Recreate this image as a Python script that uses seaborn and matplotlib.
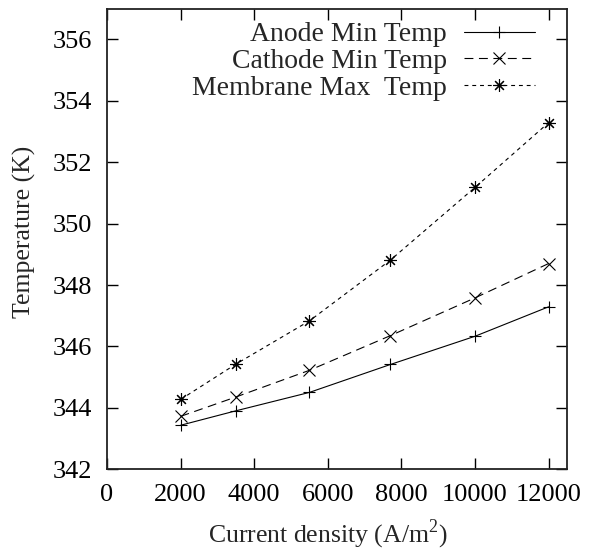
import matplotlib
matplotlib.use("Agg")
import matplotlib.pyplot as plt
import seaborn as sns
import pandas as pd

current_density = [2000, 3500, 5500, 7700, 10000, 12000]
anode_min = [343.43, 343.90, 344.50, 345.41, 346.33, 347.29]
cathode_min = [343.72, 344.35, 345.22, 346.35, 347.58, 348.70]
membrane_max = [344.27, 345.42, 346.83, 348.81, 351.18, 353.29]
labels = ["Anode Min Temp", "Cathode Min Temp", "Membrane Max  Temp"]

sns.set_theme(style="ticks")
plt.rcParams['font.family'] = ['Liberation Serif', 'DejaVu Serif']
plt.rcParams['mathtext.fontset'] = 'custom'
plt.rcParams['mathtext.rm'] = 'Liberation Serif'

fig = plt.figure(figsize=(5.91, 5.5), dpi=100)
ax = fig.add_axes([0.181, 0.147, 0.9594 - 0.181, 0.984 - 0.147])

series = [anode_min, cathode_min, membrane_max]
styles = [("-", "+"), ((0, (8, 5)), "x"), ((0, (3.5, 3.5)), (8, 2, 0))]
for vals, lab, (ls, mk) in zip(series, labels, styles):
    df = pd.DataFrame({"x": current_density, "y": vals})
    sns.lineplot(data=df, x="x", y="y", ax=ax, color="black", linewidth=0.8,
                 linestyle=ls, marker=mk, markersize=9, markeredgewidth=0.8,
                 markeredgecolor="black", markerfacecolor="black", label=lab)

ax.set_xlim(0, 12500)
ax.set_ylim(342, 357)
ax.set_xticks(range(0, 12001, 2000))
ax.set_yticks(range(342, 357, 2))
ax.tick_params(direction="in", top=True, right=True, length=8, width=1,
               labelsize=19, pad=11, colors="black")
for s in ax.spines.values():
    s.set_linewidth(1.3)
    s.set_color("#222222")
ax.set_xlabel("Current density (A/m$^2$)", fontsize=18.5)
ax.set_ylabel("Temperature (K)", fontsize=18.5)
ax.xaxis.set_label_coords(0.48, -0.105)
ax.yaxis.set_label_coords(-0.155, 0.515)

leg = ax.legend(loc="upper right", frameon=False, fontsize=20, markerfirst=False,
                handlelength=2.57, labelspacing=0.05, borderaxespad=0.2,
                handletextpad=0.6, bbox_to_anchor=(0.967, 1.008))

fig.savefig("out.png", dpi=100)
